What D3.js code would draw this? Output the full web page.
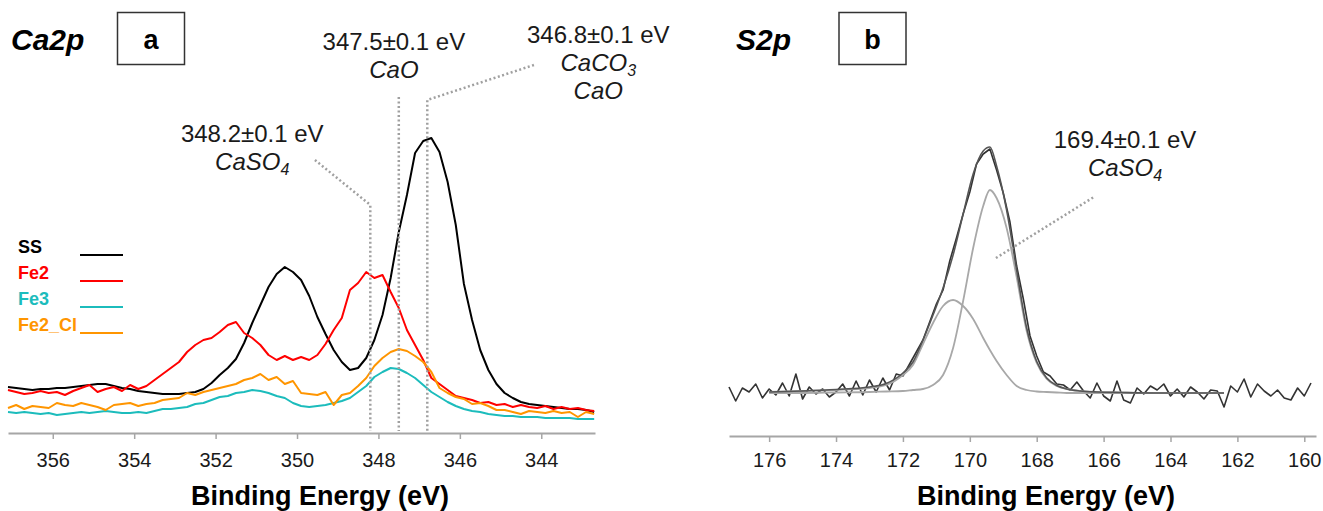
<!DOCTYPE html>
<html>
<head>
<meta charset="utf-8">
<script src="https://cdn.jsdelivr.net/npm/d3@7"></script>
<style>
    body { margin: 0; background: #fff; }
    svg text { font-family: "Liberation Sans", Arial, sans-serif; }
</style>
</head>
<body>
<svg id="chart" width="1323" height="511"></svg>
<script>
// ---- Ca2p panel (a) ----
const caEnergy = [357.1, 356.9, 356.7, 356.5, 356.3, 356.1, 355.9, 355.7, 355.5, 355.3,
    355.1, 354.9, 354.7, 354.5, 354.3, 354.1, 353.9, 353.7, 353.5, 353.3,
    353.1, 352.9, 352.7, 352.5, 352.3, 352.1, 351.9, 351.7, 351.5, 351.3,
    351.1, 350.9, 350.7, 350.5, 350.3, 350.1, 349.9, 349.7, 349.5, 349.3,
    349.1, 348.9, 348.7, 348.5, 348.3, 348.1, 347.9, 347.7, 347.5, 347.3,
    347.1, 346.9, 346.7, 346.5, 346.3, 346.1, 345.9, 345.7, 345.5, 345.3,
    345.1, 344.9, 344.7, 344.5, 344.3, 344.1, 343.9, 343.7, 343.5, 343.3,
    343.1, 342.9, 342.7];
const caSS = [46, 45, 44, 43, 44, 44, 45, 45, 46, 47,
    48, 49, 49, 47, 45, 44, 42, 41, 40, 39,
    39, 39, 40, 41, 44, 50, 58, 65, 74, 90,
    110, 128, 146, 159, 166, 161, 153, 137, 116, 99,
    83, 71, 63, 65, 75, 93, 118, 155, 201, 238,
    280, 292, 295, 281, 251, 208, 149, 113, 83, 63,
    49, 40, 35, 31, 29, 28, 27, 26, 25, 24,
    24, 23, 21];
const caFe2 = [43, 41, 39, 40, 42, 40, 41, 38, 42, 45,
    48, 41, 44, 46, 42, 48, 44, 47, 53, 59,
    65, 71, 81, 88, 93, 95, 101, 108, 111, 100,
    95, 88, 78, 73, 77, 73, 76, 73, 78, 89,
    103, 115, 143, 150, 161, 155, 158, 141, 125, 103,
    88, 73, 55, 49, 43, 37, 35, 33, 30, 31,
    28, 29, 26, 28, 26, 25, 27, 24, 26, 24,
    25, 23, 22];
const caFe3 = [21, 20, 21, 20, 19, 20, 18, 19, 20, 21,
    20, 21, 22, 21, 20, 20, 21, 20, 22, 24,
    24, 25, 26, 29, 30, 33, 36, 37, 40, 41,
    43, 42, 40, 37, 35, 30, 27, 26, 27, 28,
    30, 32, 35, 41, 47, 56, 61, 65, 64, 60,
    55, 48, 41, 36, 31, 27, 24, 22, 21, 19,
    18, 17, 17, 16, 16, 16, 15, 15, 15, 15,
    14, 14, 14];
const caFe2Cl = [25, 28, 24, 27, 26, 25, 30, 28, 27, 30,
    28, 26, 23, 28, 29, 30, 27, 29, 30, 33,
    34, 35, 40, 38, 41, 43, 45, 47, 49, 53,
    55, 59, 53, 56, 49, 52, 40, 39, 38, 41,
    28, 38, 40, 47, 55, 67, 75, 81, 84, 82,
    77, 71, 61, 45, 40, 36, 34, 29, 30, 27,
    23, 23, 21, 19, 22, 21, 20, 22, 20, 21,
    16, 21, 19];
const caSeriesNames = ['SS', 'Fe2', 'Fe3', 'Fe2_Cl'];
const caTicks = [356, 354, 352, 350, 348, 346, 344];
const caPeakEnergy = [348.2, 347.5, 346.8];
const caPeakLabel = ['348.2±0.1 eV', '347.5±0.1 eV', '346.8±0.1 eV'];
const caPeakSpecies = [[['CaSO', '4']], [['CaO', '']], [['CaCO', '3'], ['CaO', '']]];

// ---- S2p panel (b) ----
const sEnergy = [177.2, 177.0, 176.8, 176.6, 176.4, 176.2, 176.0, 175.8, 175.6, 175.4,
    175.2, 175.0, 174.8, 174.6, 174.4, 174.2, 174.0, 173.8, 173.6, 173.4,
    173.2, 173.0, 172.8, 172.6, 172.4, 172.2, 172.0, 171.8, 171.6, 171.4,
    171.2, 171.0, 170.8, 170.6, 170.4, 170.2, 170.0, 169.8, 169.6, 169.4,
    169.2, 169.0, 168.8, 168.6, 168.4, 168.2, 168.0, 167.8, 167.6, 167.4,
    167.2, 167.0, 166.8, 166.6, 166.4, 166.2, 166.0, 165.8, 165.6, 165.4,
    165.2, 165.0, 164.8, 164.6, 164.4, 164.2, 164.0, 163.8, 163.6, 163.4,
    163.2, 163.0, 162.8, 162.6, 162.4, 162.2, 162.0, 161.8, 161.6, 161.4,
    161.2, 161.0, 160.8, 160.6, 160.4, 160.2, 160.0, 159.8];
const sRaw = [49, 35, 48, 44, 52, 38, 47, 41, 53, 40,
    62, 37, 49, 42, 47, 39, 44, 52, 40, 55,
    41, 56, 44, 58, 46, 62, 60, 72, 84, 96,
    114, 132, 146, 175, 198, 222, 244, 272, 282, 287,
    266, 243, 214, 170, 137, 100, 80, 64, 60, 52,
    51, 46, 54, 45, 38, 53, 40, 35, 55, 36,
    33, 48, 42, 50, 46, 52, 40, 47, 39, 49,
    44, 37, 46, 45, 29, 50, 44, 57, 39, 52,
    45, 40, 46, 38, 36, 48, 40, 53];
const sFitEnergy = [176, 175, 174, 173, 172.5, 172, 171.7, 171.4, 171.1, 170.8,
    170.5, 170.2, 169.9, 169.6, 169.4, 169.2, 168.9, 168.6, 168.3, 168,
    167.7, 167.4, 167.1, 166.7, 166.2, 165.5, 164.5, 163.5, 162.4];
const sFitMain = [43, 43, 43.5, 44, 44.5, 45, 46, 47, 51, 61,
    88, 135, 188, 230, 246, 238, 208, 159, 105, 73,
    57, 50, 47, 45, 44, 43.5, 43, 43, 43];
const sFitMinor = [44, 45, 46, 48, 51, 61, 71, 92, 113, 130,
    136, 130, 117, 98, 86, 75, 61, 50, 46, 44.5,
    44, 43.5, 43, 43, 43, 43, 43, 43, 43];
const sFitEnvelope = [44, 45, 46.5, 49, 52.5, 63, 74, 96, 121, 148,
    181, 222, 262, 285, 289, 270, 226, 166, 108, 74.5,
    58, 50.5, 47, 45, 44, 43.5, 43, 43, 43];
const sTicks = [176, 174, 172, 170, 168, 166, 164, 162, 160];
const sPeakLabel = '169.4±0.1 eV';
const sPeakSpecies = [['CaSO', '4']];

// ---- drawing ----
const svg = d3.select('#chart');
const ink = '#1a1a1a';
const axisGray = '#a6a6a6';
const caColors = ['#000000', '#ff0000', '#1cbcbc', '#ff9500'];

const xA = d3.scaleLinear().domain([357.1, 342.68]).range([8, 595]);
const yA = d3.scaleLinear().domain([0, 300]).range([433, 133]);
const xB = d3.scaleLinear().domain([177.2, 159.65]).range([729, 1316]);
const yB = d3.scaleLinear().domain([0, 300]).range([436, 136]);

function drawAxis(x, y, ticks, pad, title, titleX) {
    const g = svg.append('g')
        .attr('transform', `translate(0,${y(0)})`)
        .call(d3.axisBottom(x).tickValues(ticks).tickSize(6).tickSizeOuter(0)
            .tickPadding(pad).tickFormat(d3.format('d')));
    // axis() writes its own font settings, so override afterwards
    g.attr('font-family', '"Liberation Sans", Arial, sans-serif').attr('font-size', 20);
    g.select('.domain').attr('stroke', axisGray).attr('stroke-width', 2);
    g.selectAll('.tick line').attr('stroke', axisGray).attr('stroke-width', 1.5);
    g.selectAll('.tick text').attr('fill', ink).style('font-size', '20px');

    svg.append('text')
        .attr('x', titleX).attr('y', 505)
        .attr('text-anchor', 'middle')
        .style('font-size', '27px').style('font-weight', 'bold')
        .attr('fill', '#000')
        .text(title);
}

function drawHeader(name, x, boxX, letter) {
    svg.append('text')
        .attr('x', x).attr('y', 50)
        .style('font-size', '30px').style('font-weight', 'bold').style('font-style', 'italic')
        .attr('fill', '#000')
        .text(name);
    svg.append('rect')
        .attr('x', boxX).attr('y', 12.5).attr('width', 67).attr('height', 52)
        .attr('fill', 'none').attr('stroke', '#333').attr('stroke-width', 1.5);
    svg.append('text')
        .attr('x', boxX + 33.5).attr('y', 49)
        .attr('text-anchor', 'middle')
        .style('font-size', '27px').style('font-weight', 'bold')
        .attr('fill', '#000')
        .text(letter);
}

// label block: first line plain, then italic species with subscripts
function drawNote(x, y, at, label, species) {
    const lines = [[label, '', false]].concat(species.map(s => [s[0], s[1], true]));
    lines.forEach((ln, i) => {
        const t = svg.append('text')
            .attr('x', x(at[0]))
            .attr('y', y(at[1]) + i * 28)
            .attr('text-anchor', 'middle')
            .style('font-size', '24px')
            .style('font-style', ln[2] ? 'italic' : 'normal')
            .attr('fill', ink);
        t.append('tspan').text(ln[0]);
        if (ln[1]) {
            t.append('tspan').attr('dy', '0.3em').style('font-size', '16px').text(ln[1]);
        }
    });
}

function drawLeader(x, y, pts) {
    svg.append('path')
        .attr('d', d3.line().x(d => x(d[0])).y(d => y(d[1]))(pts))
        .attr('fill', 'none')
        .attr('stroke', '#a0a0a0')
        .attr('stroke-width', 2.5)
        .attr('stroke-dasharray', '2,2.5');
}

// Panel a
drawHeader('Ca2p', 11, 117.5, 'a');
drawAxis(xA, yA, caTicks, 14, 'Binding Energy (eV)', 320);

const caLine = d3.line()
    .x((d, i) => xA(caEnergy[i]))
    .y(d => yA(d));

[caSS, caFe2, caFe3, caFe2Cl].forEach((values, k) => {
    svg.append('path')
        .datum(values)
        .attr('d', caLine)
        .attr('fill', 'none')
        .attr('stroke', caColors[k])
        .attr('stroke-width', 2)
        .attr('stroke-linejoin', 'round');
});

// dotted peak markers
const caLeaderStart = [[[349.56, 273], [348.2, 228]], [[347.5, 336]], [[344.18, 368], [346.8, 333]]];
caPeakEnergy.forEach((e, i) => {
    drawLeader(xA, yA, caLeaderStart[i].concat([[e, 2]]));
});

const caNoteAt = [[351.1, 291], [347.62, 383], [342.6, 390]];
caPeakEnergy.forEach((e, i) => {
    drawNote(xA, yA, caNoteAt[i], caPeakLabel[i], caPeakSpecies[i]);
});

// legend
const legend = svg.append('g');
caSeriesNames.forEach((name, i) => {
    const by = 253 + i * 26;
    legend.append('text')
        .attr('x', 18).attr('y', by)
        .style('font-size', '18px').style('font-weight', 'bold')
        .attr('fill', caColors[i])
        .text(name);
    legend.append('line')
        .attr('x1', 80).attr('x2', 123)
        .attr('y1', by + 2).attr('y2', by + 2)
        .attr('stroke', caColors[i]).attr('stroke-width', 2);
});

// Panel b
drawHeader('S2p', 736, 839, 'b');
drawAxis(xB, yB, sTicks, 11, 'Binding Energy (eV)', 1046);

svg.append('path')
    .datum(sRaw)
    .attr('d', d3.line().x((d, i) => xB(sEnergy[i])).y(d => yB(d)))
    .attr('fill', 'none')
    .attr('stroke', '#333')
    .attr('stroke-width', 1.6)
    .attr('stroke-linejoin', 'round');

const fitLine = d3.line()
    .x((d, i) => xB(sFitEnergy[i]))
    .y(d => yB(d))
    .curve(d3.curveMonotoneX);

[sFitMain, sFitMinor].forEach(values => {
    svg.append('path')
        .datum(values)
        .attr('d', fitLine)
        .attr('fill', 'none')
        .attr('stroke', '#a8a8a8')
        .attr('stroke-width', 1.8);
});

svg.append('path')
    .datum(sFitEnvelope)
    .attr('d', fitLine)
    .attr('fill', 'none')
    .attr('stroke', '#555')
    .attr('stroke-width', 1.6);

drawLeader(xB, yB, [[169.22, 178], [166.29, 239]]);
drawNote(xB, yB, [165.36, 288], sPeakLabel, sPeakSpecies);
</script>
</body>
</html>
